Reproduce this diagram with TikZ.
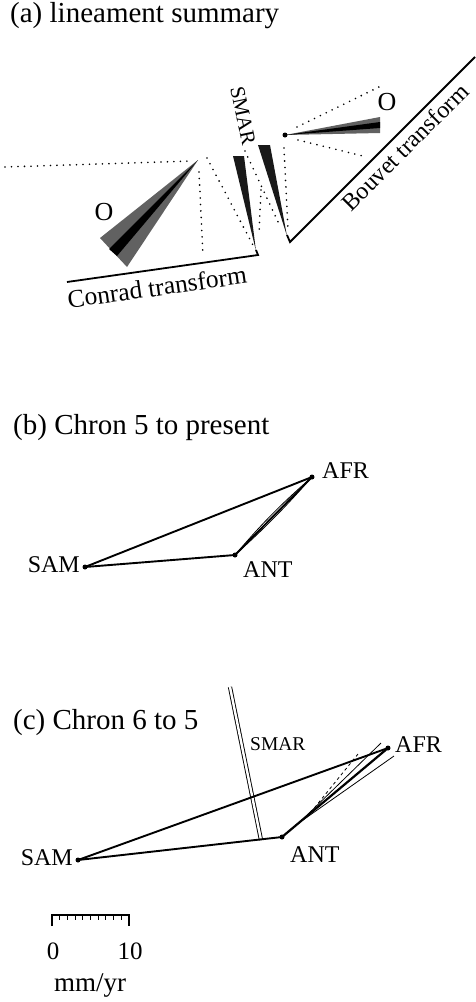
\documentclass[tikz,border=0pt]{standalone}
\usepackage{fontspec}
\setmainfont{Liberation Serif}
\begin{document}
\begin{tikzpicture}[x=1pt,y=-1pt,
  title/.style={anchor=base west, inner sep=0pt, font=\fontsize{29}{31}\selectfont},
  lbl/.style={inner sep=0pt, font=\fontsize{24}{26}\selectfont},
  small/.style={inner sep=0pt, font=\fontsize{19.5}{21}\selectfont},
  pt/.style={circle, fill=black, inner sep=0pt, minimum size=5pt},
  vec/.style={line width=1.9pt, line cap=round},
  err/.style={line width=0.8pt},
  dots/.style={line width=1.8pt, dash pattern=on 0pt off 6.5pt, line cap=round},
  fault/.style={line width=1.8pt},
  wedge/.style={fill=black!62},
  core/.style={fill=black},
]
\useasboundingbox (0,0) rectangle (476,1002);

% ---------- titles ----------
\node[title] (ta) at (10,22) {(a) lineament summary};
\node[title] (tb) at (13,434) {(b) Chron 5 to present};
\node[title] (tc) at (13,729) {(c) Chron 6 to 5};

% ---------- (a) lineament summary ----------
% azimuth bounds (dotted)
\draw[dots] (5,167) -- (192,161);
\draw[dots] (199,172) -- (203,256);
\draw[dots] (207,158) -- (255,249);
\draw[dots] (245,151) -- (279,224);
\draw[dots] (261,190) -- (259,233);
\draw[dots] (284,148) -- (288,230);
\draw[dots] (297,127) -- (381,86);
\draw[dots] (298,140) -- (367,157);

% left oblique wedge
\fill[wedge] (198,160) -- (100,238) -- (127,267) -- cycle;
\fill[core] (198,160) -- (109,249) -- (117,256) -- cycle;

% SMAR wedges
\fill[black!90] (233,156) -- (244,156) -- (256,251) -- cycle;
\fill[black!90] (258,145) -- (270,145) -- (287,236) -- cycle;

% right oblique wedge
\fill[wedge] (285,135) -- (380,117) -- (380,133) -- cycle;
\fill[core] (285,135) -- (380,122) -- (380,128) -- cycle;
\fill (285,135) circle (2.5pt);

% transforms
\draw[fault] (67,282) -- (258,255) -- (256,250);
\draw[fault] (287,235) -- (290,242) -- (475,57);

\node[lbl, font=\fontsize{25.5}{27}\selectfont, rotate=8] (conrad) at (157,287) {Conrad transform};
\node[lbl, rotate=45] (bouvet) at (405,147) {Bouvet transform};
\node[inner sep=0pt, font=\fontsize{21}{23}\selectfont, rotate=-78] (smarA) at (243,116) {SMAR};
\node[lbl, font=\fontsize{26}{28}\selectfont] (oL) at (104,212) {O};
\node[lbl, font=\fontsize{26}{28}\selectfont] (oR) at (387,102) {O};

% ---------- (b) Chron 5 to present ----------
\node[pt] (bAFR) at (312,477) {};
\node[pt] (bANT) at (235,555) {};
\node[pt] (bSAM) at (85,567) {};
\draw[vec] (bSAM.center) -- (bAFR.center);
\draw[vec] (bSAM.center) -- (bANT.center);
\draw[vec] (bANT.center) -- (bAFR.center);
\draw[err] (bANT.center) to[bend left=4] (bAFR.center);
\draw[err] (bANT.center) to[bend right=3] (bAFR.center);
\node[lbl, anchor=base west] (bAFRl) at (322,478) {AFR};
\node[lbl, anchor=base east] (bSAMl) at (80,572) {SAM};
\node[lbl, anchor=base west] (bANTl) at (243,577) {ANT};

% ---------- (c) Chron 6 to 5 ----------
\coordinate (cSMt) at (230,687);
\coordinate (cSMb) at (261,840);
\draw[double, double distance=2.4pt, line width=0.9pt] (cSMt) -- (cSMb);
\node[small, anchor=base west] (cSMl) at (250,750) {SMAR};

\node[pt] (cAFR) at (388,748) {};
\node[pt] (cANT) at (282,837) {};
\node[pt] (cSAM) at (78,860) {};
\draw[vec] (cSAM.center) -- (cAFR.center);
\draw[vec] (cSAM.center) -- (cANT.center);
\draw[vec, line width=2.2pt] (cANT.center) -- (cAFR.center);

\coordinate (cU1) at (300,822);
\coordinate (cU2) at (381,743);
\coordinate (cL1) at (303,820);
\coordinate (cL2) at (394,756);
\coordinate (cD1) at (307,817);
\coordinate (cD2) at (358,754);
\draw[err] (cU1) -- (cU2);
\draw[err] (cL1) -- (cL2);
\draw[err, dash pattern=on 3pt off 3pt] (cD1) -- (cD2);

\node[lbl, anchor=base west] (cAFRl) at (395,752) {AFR};
\node[lbl, anchor=base east] (cSAMl) at (73,865) {SAM};
\node[lbl, anchor=base west] (cANTl) at (290,862) {ANT};

% ---------- scale bar ----------
\draw[line width=1.3pt] (52,926) -- (52,915) -- (129,915) -- (129,926);
\foreach \i in {1,...,9}
  \draw[line width=1pt] ({52+7.7*\i},915) -- ({52+7.7*\i},920);
\node[lbl, font=\fontsize{25}{27}\selectfont] (s0) at (53,951) {0};
\node[lbl, font=\fontsize{25}{27}\selectfont] (s10) at (130,951) {10};
\node[lbl, font=\fontsize{27}{29}\selectfont] (unit) at (90,986) {mm/yr};
\end{tikzpicture}
\end{document}
